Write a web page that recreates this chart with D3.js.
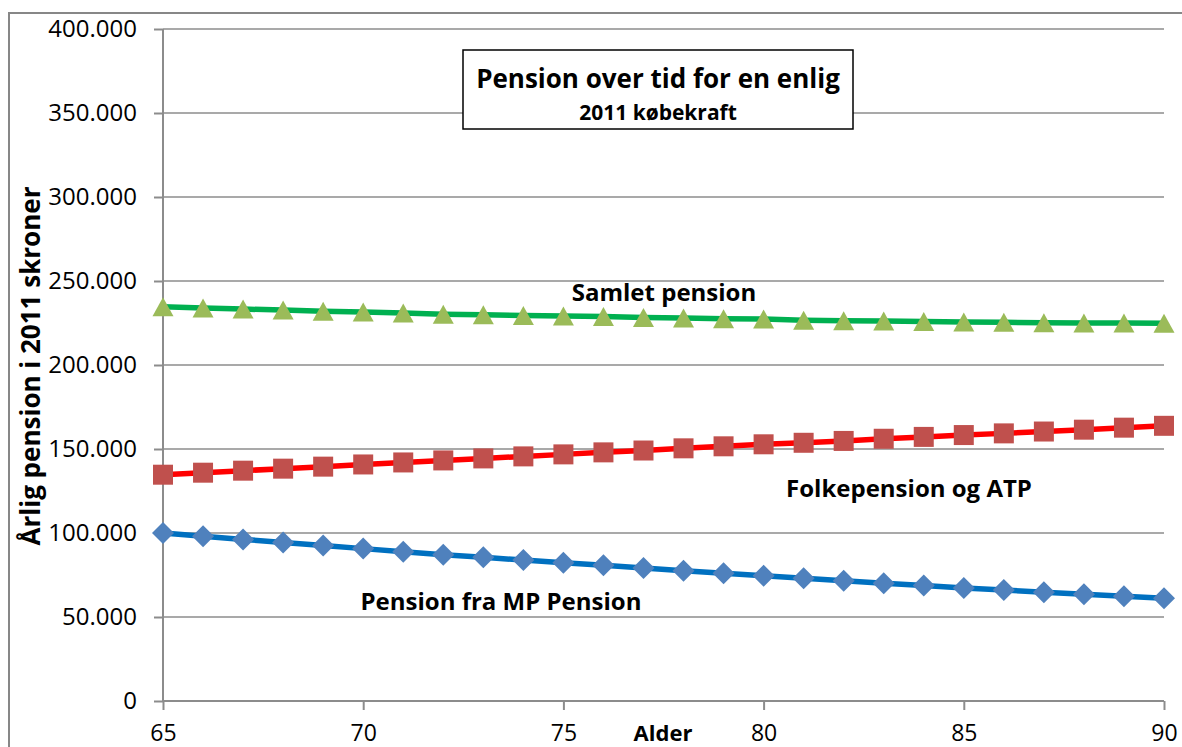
<!DOCTYPE html>
<html>
<head>
<meta charset="utf-8">
<script src="https://cdn.jsdelivr.net/npm/d3@7"></script>
<style>
  body { margin: 0; background: #fff; }
  text { font-family: "Open Sans", "Noto Sans", sans-serif; fill: #000; }
</style>
</head>
<body>
<script>
//ages on the x axis
var ages = d3.range(65, 91);

//series values (kroner per year)
var mpPension = [100000, 98000, 96200, 94400, 92500, 90700, 88900, 87000, 85500, 83900,
	82300, 80800, 79100, 77600, 76000, 74600, 73000, 71600, 70100, 68700,
	67300, 66100, 64700, 63500, 62300, 61100];
var folkePension = [134700, 135900, 137100, 138300, 139500, 140800, 142000, 143200, 144400, 145600,
	146800, 148000, 149100, 150400, 151600, 152800, 153700, 154800, 156100, 157200,
	158300, 159300, 160400, 161500, 162700, 163800];
var samletPension = [234700, 233900, 233300, 232700, 232000, 231500, 230900, 230200, 229900, 229500,
	229100, 228800, 228200, 228000, 227600, 227400, 226700, 226400, 226200, 225900,
	225600, 225400, 225100, 225000, 225000, 224900];

var yTicks = [0, 50000, 100000, 150000, 200000, 250000, 300000, 350000, 400000];
var xTicks = [65, 70, 75, 80, 85, 90];

var width = 1182,
	height = 747;

var svg = d3.select("body")
	.append("svg")
	.attr("width", width)
	.attr("height", height);

//outer chart border
svg.append("rect")
	.attr("x", 9)
	.attr("y", 13)
	.attr("width", 1200)
	.attr("height", 800)
	.attr("fill", "none")
	.attr("stroke", "#878787")
	.attr("stroke-width", 2);

var x = d3.scaleLinear().domain([65, 90]).range([163, 1164]);
var y = d3.scaleLinear().domain([0, 400000]).range([701, 29]);

var fmt = function(d){ return d === 0 ? "0" : d3.format(",")(d).replace(/,/g, "."); };

//horizontal gridlines
svg.selectAll(".grid")
	.data(yTicks.filter(function(d){ return d > 0; }))
	.enter()
	.append("line")
	.attr("class", "grid")
	.attr("x1", x(65))
	.attr("x2", x(90))
	.attr("y1", function(d){ return y(d); })
	.attr("y2", function(d){ return y(d); })
	.attr("stroke", "#8c8c8c")
	.attr("stroke-width", 1.5);

//y axis
var yAxis = svg.append("g")
	.attr("transform", "translate(" + x(65) + ",0)")
	.call(d3.axisLeft(y).tickValues(yTicks).tickFormat(fmt).tickSize(9).tickPadding(17));

//x axis
var xAxis = svg.append("g")
	.attr("transform", "translate(0," + y(0) + ")")
	.call(d3.axisBottom(x).tickValues(xTicks).tickFormat(d3.format("d")).tickSize(9).tickPadding(15));

[yAxis, xAxis].forEach(function(ax){
	ax.attr("font-size", null).attr("font-family", null);
	ax.select(".domain").attr("stroke", "#8c8c8c").attr("stroke-width", 2);
	ax.selectAll(".tick line").attr("stroke", "#8c8c8c").attr("stroke-width", 2);
	ax.selectAll(".tick text")
		.style("font-size", "24px")
		.attr("fill", "#000");
});
xAxis.selectAll(".tick text").style("font-size", "23px");
xAxis.select(".domain").attr("d", "M" + x(65) + ",0H" + x(90));
yAxis.select(".domain").attr("d", "M0," + y(0) + "V" + y(400000));

//marker shapes sized like the spreadsheet markers
var tri = function(ctx){ ctx.moveTo(0, -9.5); ctx.lineTo(10.5, 9.5); ctx.lineTo(-10.5, 9.5); ctx.closePath(); };
var sq = function(ctx){ ctx.rect(-10, -10, 20, 20); };
var dia = function(ctx){ ctx.moveTo(0, -11); ctx.lineTo(11, 0); ctx.lineTo(0, 11); ctx.lineTo(-11, 0); ctx.closePath(); };

//series
var series = [
	{name: "samlet", values: samletPension, line: "#00B050", fill: "#9BBB59", shape: tri},
	{name: "folke", values: folkePension, line: "#FF0000", fill: "#C0504D", shape: sq},
	{name: "mp", values: mpPension, line: "#0070C0", fill: "#4F81BD", shape: dia}
];

var lineGen = d3.line()
	.x(function(d, i){ return x(ages[i]); })
	.y(function(d){ return y(d); });

series.forEach(function(s){
	svg.append("path")
		.datum(s.values)
		.attr("class", "line " + s.name)
		.attr("fill", "none")
		.attr("stroke", s.line)
		.attr("stroke-width", 5.5)
		.attr("d", lineGen);

	svg.selectAll(".marker." + s.name)
		.data(s.values)
		.enter()
		.append("path")
		.attr("class", "marker " + s.name)
		.attr("transform", function(d, i){ return "translate(" + x(ages[i]) + "," + y(d) + ")"; })
		.attr("d", function(){ var p = d3.path(); s.shape(p); return p.toString(); })
		.attr("fill", s.fill);
});

//series labels
var labels = [
	{text: "Samlet pension", x: 664, y: 301},
	{text: "Folkepension og ATP", x: 909, y: 497},
	{text: "Pension fra MP Pension", x: 501, y: 610}
];
svg.selectAll(".label")
	.data(labels)
	.enter()
	.append("text")
	.attr("class", "label")
	.attr("x", function(d){ return d.x; })
	.attr("y", function(d){ return d.y; })
	.attr("text-anchor", "middle")
	.style("font-size", "24px")
	.style("font-weight", "bold")
	.text(function(d){ return d.text; });

//title box
svg.append("rect")
	.attr("x", 463)
	.attr("y", 50)
	.attr("width", 390)
	.attr("height", 79)
	.attr("fill", "#fff")
	.attr("stroke", "#000")
	.attr("stroke-width", 1.5);
svg.append("text")
	.attr("x", 658)
	.attr("y", 88)
	.attr("text-anchor", "middle")
	.style("font-size", "26px")
	.style("font-weight", "bold")
	.text("Pension over tid for en enlig");
svg.append("text")
	.attr("x", 658)
	.attr("y", 120)
	.attr("text-anchor", "middle")
	.style("font-size", "21px")
	.style("font-weight", "bold")
	.text("2011 købekraft");

//axis titles
svg.append("text")
	.attr("transform", "translate(40,366) rotate(-90)")
	.attr("text-anchor", "middle")
	.style("font-size", "26px")
	.style("font-weight", "bold")
	.text("Årlig pension i 2011 skroner");
svg.append("text")
	.attr("x", 663)
	.attr("y", 741)
	.attr("text-anchor", "middle")
	.style("font-size", "22px")
	.style("font-weight", "bold")
	.text("Alder");
</script>
</body>
</html>
